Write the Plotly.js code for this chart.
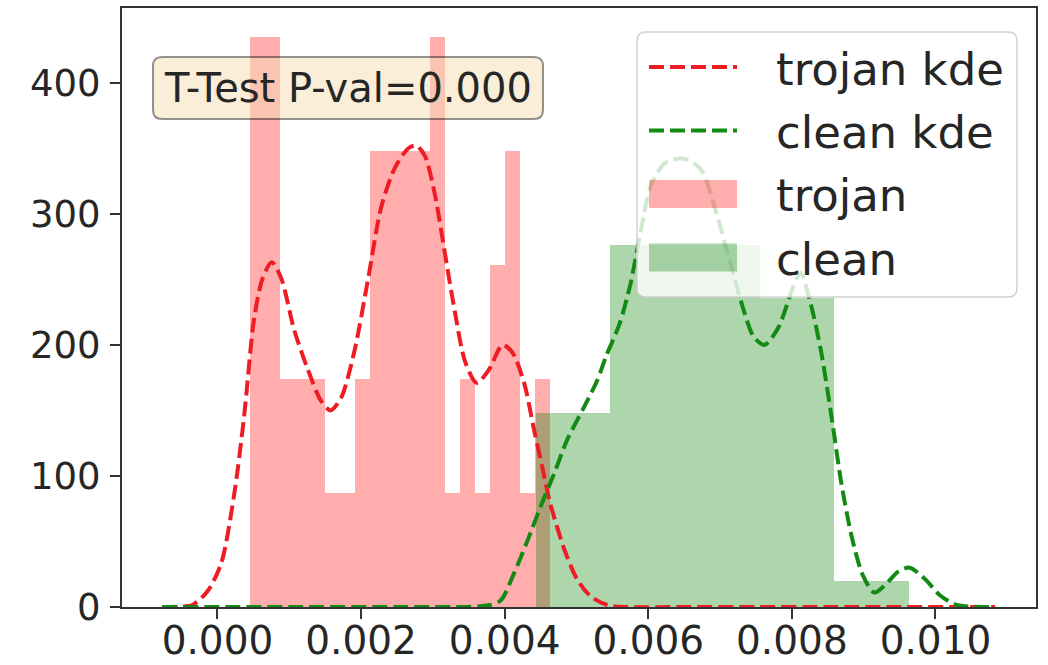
<!DOCTYPE html>
<html>
<head>
<meta charset="utf-8">
<script src="https://cdn.plot.ly/plotly-3.0.1.min.js"></script>
<style>html,body{margin:0;padding:0;background:#fff;}#chart{width:1048px;height:665px;}</style>
</head>
<body>
<div id="chart"></div>
<script>
// ---- data ----
const trojanBinEdges = [0.000452, 0.000661, 0.000870, 0.001079, 0.001288, 0.001497, 0.001705, 0.001914, 0.002123, 0.002332, 0.002541, 0.002750, 0.002959, 0.003168, 0.003377, 0.003586, 0.003795, 0.004003, 0.004212, 0.004421, 0.004629];
const trojanDensity = [435, 435, 174, 174, 174, 87, 87, 174, 348, 348, 348, 348, 435, 87, 174, 87, 261, 348, 87, 174];

const cleanBinEdges = [0.00443, 0.00547, 0.00651, 0.00755, 0.00859, 0.00963];
const cleanDensity = [148, 276, 276, 236, 20];

const trojanKdeX = [-0.00077, -0.00055, -0.00035, -0.00014, 0.00005, 0.00023, 0.00037, 0.00051, 0.00063, 0.000755, 0.000886, 0.00107, 0.00126, 0.001445, 0.001576, 0.001725, 0.00191, 0.00210, 0.00228, 0.00247, 0.00266, 0.00277, 0.00289, 0.00303, 0.00317, 0.00331, 0.00345, 0.00361, 0.00378, 0.00397, 0.00411, 0.00427, 0.00441, 0.00453, 0.00462, 0.00473, 0.00485, 0.00501, 0.00520, 0.00543, 0.00570, 0.00650, 0.00750, 0.00850, 0.00950, 0.01083];
const trojanKdeY = [0, 0.3, 1.5, 12, 33, 85, 145, 220, 251, 263, 251, 211, 181, 157, 150, 160, 196, 251, 305, 335, 350, 352, 344, 314, 269, 224, 187, 171, 181, 200, 194, 171, 135, 105, 82, 61, 41, 21, 8, 1.5, 0, 0, 0, 0, 0, 0];

const cleanKdeX = [-0.00077, 0.0010, 0.0025, 0.0034, 0.00365, 0.0038, 0.00395, 0.00413, 0.00432, 0.00450, 0.00469, 0.00487, 0.00511, 0.00529, 0.00541, 0.00560, 0.00575, 0.00590, 0.00604, 0.00624, 0.00649, 0.00673, 0.00693, 0.00712, 0.00732, 0.00747, 0.00762, 0.00781, 0.00801, 0.00812, 0.00825, 0.00840, 0.00855, 0.00869, 0.00884, 0.00899, 0.00915, 0.00932, 0.00948, 0.00964, 0.00986, 0.01006, 0.01030, 0.01055, 0.01083];
const cleanKdeY = [0, 0, 0, 0, 0.5, 1.5, 5.3, 25.7, 51, 76.6, 102, 127.5, 153, 173, 191, 216, 246, 288, 322, 339, 342, 334, 304, 267, 228, 206, 200, 213, 243, 255, 234, 197, 146, 94, 52, 24, 11, 18, 27, 30, 21, 9, 1.5, 0.2, 0];

const xTickVals = [0, 0.002, 0.004, 0.006, 0.008, 0.010];
const xTickText = ["0.000", "0.002", "0.004", "0.006", "0.008", "0.010"];
const yTickVals = [0, 100, 200, 300, 400];
const annotationText = "T-Test P-val=0.000";

// ---- styles ----
const FONT = "DejaVu Sans, Liberation Sans, sans-serif";
const TEXT_COLOR = "#262626";
const TROJAN_BAR = "rgba(255,0,0,0.32)";
const CLEAN_BAR = "rgba(0,128,0,0.32)";
const TROJAN_LINE = "#ee1c24";
const CLEAN_LINE = "#138a13";
const DASH = "15px,6px";

const W = 1048, H = 665;
const M = {l: 122, r: 12, t: 8, b: 58};
const PW = W - M.l - M.r, PH = H - M.t - M.b;
function px2x(px) { return (px - M.l) / PW; }
function py2y(py) { return (H - M.b - py) / PH; }

function lefts(edges) { return edges.slice(0, -1); }
function widths(edges) { return edges.slice(1).map((e, i) => e - edges[i]); }

const traces = [
  {
    type: "bar", name: "trojan", x: lefts(trojanBinEdges), y: trojanDensity,
    width: widths(trojanBinEdges), offset: 0,
    marker: {color: TROJAN_BAR, line: {width: 0}}, hoverinfo: "skip"
  },
  {
    type: "bar", name: "clean", x: lefts(cleanBinEdges), y: cleanDensity,
    width: widths(cleanBinEdges), offset: 0,
    marker: {color: CLEAN_BAR, line: {width: 0}}, hoverinfo: "skip"
  },
  {
    type: "scatter", mode: "lines", name: "trojan kde", x: trojanKdeX, y: trojanKdeY,
    line: {color: TROJAN_LINE, width: 4, dash: DASH, shape: "spline", smoothing: 0.8},
    hoverinfo: "skip"
  },
  {
    type: "scatter", mode: "lines", name: "clean kde", x: cleanKdeX, y: cleanKdeY,
    line: {color: CLEAN_LINE, width: 4, dash: DASH, shape: "spline", smoothing: 0.8},
    hoverinfo: "skip"
  }
];

// rounded rectangle path in paper coordinates (pixel box + pixel radius)
function roundRect(x0, y0, x1, y1, r) {
  const X = px2x, Y = py2y;
  return "M" + X(x0 + r) + "," + Y(y0) +
    " L" + X(x1 - r) + "," + Y(y0) + " Q" + X(x1) + "," + Y(y0) + " " + X(x1) + "," + Y(y0 + r) +
    " L" + X(x1) + "," + Y(y1 - r) + " Q" + X(x1) + "," + Y(y1) + " " + X(x1 - r) + "," + Y(y1) +
    " L" + X(x0 + r) + "," + Y(y1) + " Q" + X(x0) + "," + Y(y1) + " " + X(x0) + "," + Y(y1 - r) +
    " L" + X(x0) + "," + Y(y0 + r) + " Q" + X(x0) + "," + Y(y0) + " " + X(x0 + r) + "," + Y(y0) + " Z";
}

const shapes = [];
const annotations = [];

// text box with the t-test result
shapes.push({
  type: "path", xref: "paper", yref: "paper", layer: "above",
  path: roundRect(153, 57, 543, 119, 9),
  fillcolor: "rgba(245,222,179,0.5)", line: {color: "rgba(0,0,0,0.42)", width: 2}
});
annotations.push({
  xref: "paper", yref: "paper", x: px2x(348), y: py2y(88), xanchor: "center", yanchor: "middle",
  text: annotationText, showarrow: false, font: {family: FONT, size: 40, color: TEXT_COLOR}
});

// legend (matplotlib style), built from the traces in legend order
const legendOrder = [2, 3, 0, 1];
const LEG = {x0: 637, y0: 32, x1: 1017, y1: 297, symX0: 649, symX1: 737, textX: 774, row0: 67, rowStep: 63.5, patchH: 28};
shapes.push({
  type: "path", xref: "paper", yref: "paper", layer: "above",
  path: roundRect(LEG.x0, LEG.y0, LEG.x1, LEG.y1, 9),
  fillcolor: "rgba(255,255,255,0.8)", line: {color: "rgba(204,204,204,0.9)", width: 1.5}
});
legendOrder.forEach((ti, row) => {
  const tr = traces[ti];
  const cy = LEG.row0 + row * LEG.rowStep;
  if (tr.type === "scatter") {
    shapes.push({
      type: "line", xref: "paper", yref: "paper", layer: "above",
      x0: px2x(LEG.symX0), x1: px2x(LEG.symX1), y0: py2y(cy), y1: py2y(cy),
      line: {color: tr.line.color, width: tr.line.width, dash: tr.line.dash}
    });
  } else {
    shapes.push({
      type: "rect", xref: "paper", yref: "paper", layer: "above",
      x0: px2x(LEG.symX0), x1: px2x(LEG.symX1),
      y0: py2y(cy - LEG.patchH / 2), y1: py2y(cy + LEG.patchH / 2),
      fillcolor: tr.marker.color, line: {width: 0}
    });
  }
  annotations.push({
    xref: "paper", yref: "paper", x: px2x(LEG.textX), y: py2y(cy + 2), xanchor: "left", yanchor: "middle",
    text: tr.name, showarrow: false, font: {family: FONT, size: 45, color: TEXT_COLOR}
  });
});

const axisCommon = {
  showline: true, mirror: true, linecolor: "#333", linewidth: 2,
  ticks: "outside", ticklen: 10, tickwidth: 2, tickcolor: "#333",
  showgrid: false, zeroline: false, fixedrange: true
};

const layout = {
  width: W, height: H, margin: M,
  paper_bgcolor: "#fff", plot_bgcolor: "#fff",
  barmode: "overlay", bargap: 0, showlegend: false,
  font: {family: FONT, color: TEXT_COLOR},
  xaxis: Object.assign({}, axisCommon, {
    range: [-0.00133, 0.0114], tickvals: xTickVals, ticktext: xTickText,
    tickfont: {family: FONT, size: 39, color: TEXT_COLOR}, ticklabelstandoff: -12
  }),
  yaxis: Object.assign({}, axisCommon, {
    range: [0, 457], tickvals: yTickVals,
    tickfont: {family: FONT, size: 37, color: TEXT_COLOR}, ticklabelstandoff: 2
  }),
  shapes: shapes,
  annotations: annotations
};

Plotly.newPlot("chart", traces, layout, {displayModeBar: false, staticPlot: true});
</script>
</body>
</html>
